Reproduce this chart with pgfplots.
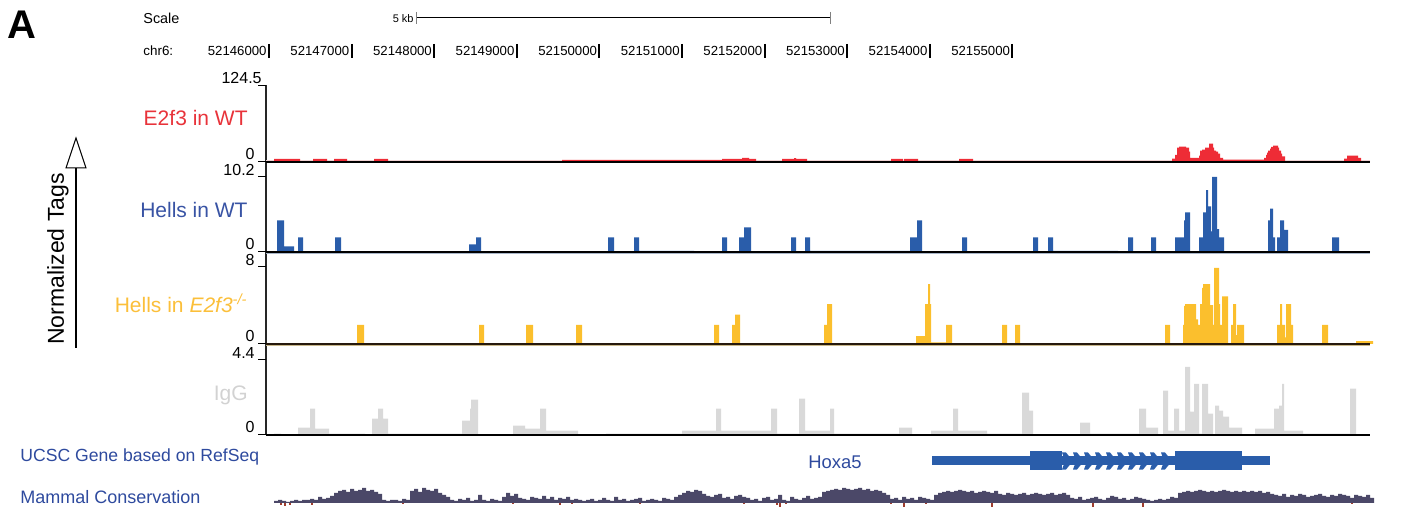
\documentclass[border=0pt]{standalone}
\usepackage{fontspec}
\setmainfont{Liberation Sans}
\usepackage{pgfplots}
\pgfplotsset{compat=1.18}
\definecolor{cred}{HTML}{EE2C36}
\definecolor{cblue}{HTML}{2A5DAA}
\definecolor{cyel}{HTML}{FBBF2D}
\definecolor{cgray}{HTML}{D9D9D9}
\definecolor{tred}{HTML}{E8333A}
\definecolor{tblue}{HTML}{3853A4}
\definecolor{tyel}{HTML}{FBBF3A}
\definecolor{tgray}{HTML}{D2D2D2}
\definecolor{ucsc}{HTML}{2E4A9E}
\definecolor{cons}{HTML}{4B4868}
\definecolor{consneg}{HTML}{9E3D2E}
\definecolor{lpink}{HTML}{F0D4D4}
\definecolor{lblue}{HTML}{A9B6C8}
\definecolor{ltan}{HTML}{C8B78A}
\begin{document}
\begin{tikzpicture}
\pgfplotsset{track/.style={hide axis, clip=false, scale only axis, width=552pt,
  xmin=266, xmax=1370, ymin=0, anchor=south west}}
% ---------- frame axis in picture units ----------
\begin{axis}[hide axis, clip=false, scale only axis, width=708.5pt, height=256pt,
  xmin=0, xmax=1417, ymin=0, ymax=512, y dir=reverse, at={(0pt,0pt)}, anchor=south west]
\node[anchor=north west, font=\fontsize{20}{20}\selectfont\bfseries, inner sep=0pt] at (axis cs:7,11) {A};
% scale bar
\node[anchor=west, font=\fontsize{7.2}{8}\selectfont, inner sep=0pt] at (axis cs:143,18) {Scale};
\node[anchor=east, font=\fontsize{5.5}{6}\selectfont, inner sep=0pt] at (axis cs:414,18.5) {5 kb};
\draw[line width=0.5pt] (axis cs:416,18) -- (axis cs:830,18);
\draw[line width=0.4pt, gray] (axis cs:416,12) -- (axis cs:416,24);
\draw[line width=0.4pt, gray] (axis cs:830,12) -- (axis cs:830,24);
% ruler
\node[anchor=west, font=\fontsize{6.7}{7}\selectfont, inner sep=0pt] at (axis cs:143,51) {chr6:};
\node[anchor=east, font=\fontsize{6.6}{7}\selectfont, inner sep=0pt] at (axis cs:267,51) {52146000};
\node[anchor=east, font=\fontsize{6.6}{7}\selectfont, inner sep=0pt] at (axis cs:349.6,51) {52147000};
\node[anchor=east, font=\fontsize{6.6}{7}\selectfont, inner sep=0pt] at (axis cs:432.2,51) {52148000};
\node[anchor=east, font=\fontsize{6.6}{7}\selectfont, inner sep=0pt] at (axis cs:514.8,51) {52149000};
\node[anchor=east, font=\fontsize{6.6}{7}\selectfont, inner sep=0pt] at (axis cs:597.4,51) {52150000};
\node[anchor=east, font=\fontsize{6.6}{7}\selectfont, inner sep=0pt] at (axis cs:680,51) {52151000};
\node[anchor=east, font=\fontsize{6.6}{7}\selectfont, inner sep=0pt] at (axis cs:762.6,51) {52152000};
\node[anchor=east, font=\fontsize{6.6}{7}\selectfont, inner sep=0pt] at (axis cs:845.2,51) {52153000};
\node[anchor=east, font=\fontsize{6.6}{7}\selectfont, inner sep=0pt] at (axis cs:927.8,51) {52154000};
\node[anchor=east, font=\fontsize{6.6}{7}\selectfont, inner sep=0pt] at (axis cs:1010.4,51) {52155000};
\draw[line width=1pt] (axis cs:269,44) -- (axis cs:269,58);
\draw[line width=1pt] (axis cs:351.6,44) -- (axis cs:351.6,58);
\draw[line width=1pt] (axis cs:434.2,44) -- (axis cs:434.2,58);
\draw[line width=1pt] (axis cs:516.8,44) -- (axis cs:516.8,58);
\draw[line width=1pt] (axis cs:599.4,44) -- (axis cs:599.4,58);
\draw[line width=1pt] (axis cs:682,44) -- (axis cs:682,58);
\draw[line width=1pt] (axis cs:764.6,44) -- (axis cs:764.6,58);
\draw[line width=1pt] (axis cs:847.2,44) -- (axis cs:847.2,58);
\draw[line width=1pt] (axis cs:929.8,44) -- (axis cs:929.8,58);
\draw[line width=1pt] (axis cs:1012.4,44) -- (axis cs:1012.4,58);
% left axis and ticks
\draw[line width=0.8pt, black!85] (axis cs:266,85) -- (axis cs:266,435);
\draw[line width=0.5pt] (axis cs:258,86) -- (axis cs:266,86);
\draw[line width=0.5pt] (axis cs:258,162) -- (axis cs:266,162);
\draw[line width=0.5pt] (axis cs:258,177) -- (axis cs:266,177);
\draw[line width=0.5pt] (axis cs:258,252) -- (axis cs:266,252);
\draw[line width=0.5pt] (axis cs:258,267) -- (axis cs:266,267);
\draw[line width=0.5pt] (axis cs:258,344) -- (axis cs:266,344);
\draw[line width=0.5pt] (axis cs:258,360) -- (axis cs:266,360);
\draw[line width=0.5pt] (axis cs:258,435) -- (axis cs:266,435);
\node[anchor=base east, font=\fontsize{8}{9}\selectfont, inner sep=0pt] at (axis cs:262,84) {124.5};
\node[anchor=base east, font=\fontsize{8}{9}\selectfont, inner sep=0pt] at (axis cs:255,160) {0};
\node[anchor=base east, font=\fontsize{8}{9}\selectfont, inner sep=0pt] at (axis cs:255,176) {10.2};
\node[anchor=base east, font=\fontsize{8}{9}\selectfont, inner sep=0pt] at (axis cs:255,250) {0};
\node[anchor=base east, font=\fontsize{8}{9}\selectfont, inner sep=0pt] at (axis cs:255,266) {8};
\node[anchor=base east, font=\fontsize{8}{9}\selectfont, inner sep=0pt] at (axis cs:255,342) {0};
\node[anchor=base east, font=\fontsize{8}{9}\selectfont, inner sep=0pt] at (axis cs:255,359) {4.4};
\node[anchor=base east, font=\fontsize{8}{9}\selectfont, inner sep=0pt] at (axis cs:255,433) {0};
% track names
\node[anchor=east, font=\fontsize{10.5}{12}\selectfont, text=tred, inner sep=0pt] at (axis cs:248,118) {E2f3 in WT};
\node[anchor=east, font=\fontsize{10.5}{12}\selectfont, text=tblue, inner sep=0pt] at (axis cs:248,210) {Hells in WT};
\node[anchor=east, font=\fontsize{10.5}{12}\selectfont, text=tyel, inner sep=0pt] at (axis cs:248,303) {Hells in \textit{E2f3}\textsuperscript{\textit{-/-}}};
\node[anchor=east, font=\fontsize{10.5}{12}\selectfont, text=tgray, inner sep=0pt] at (axis cs:248,395) {IgG};
% y label with arrow
\node[rotate=90, font=\fontsize{11.5}{12}\selectfont, inner sep=0pt] at (axis cs:58,259) {Normalized Tags};
\draw[line width=1.1pt] (axis cs:76,168) -- (axis cs:76,348);
\draw[fill=white, line width=0.5pt] (axis cs:76,138) -- (axis cs:86,168) -- (axis cs:66,168) -- cycle;
% bottom tracks names
\node[anchor=west, font=\fontsize{8.8}{10}\selectfont, text=ucsc, inner sep=0pt] at (axis cs:20,457) {UCSC Gene based on RefSeq};
\node[anchor=west, font=\fontsize{9}{10}\selectfont, text=ucsc, inner sep=0pt] at (axis cs:20,497) {Mammal Conservation};
\node[anchor=west, font=\fontsize{9.2}{10}\selectfont, text=ucsc, inner sep=0pt] at (axis cs:808,462) {Hoxa5};
% gene model Hoxa5
\addplot[fill=cblue, draw=none] coordinates {(932,456.5) (1270,456.5) (1270,465.5) (932,465.5)};
\addplot[fill=cblue, draw=none] coordinates {(1030,451.5) (1062,451.5) (1062,470) (1030,470)};
\addplot[fill=cblue, draw=none] coordinates {(1175,451.5) (1242,451.5) (1242,470) (1175,470)};
\addplot[fill=cblue, draw=none] coordinates {(1062,452.5) (1066,452.5) (1073,461) (1066,469.5) (1062,469.5) (1065,461)};
\addplot[fill=cblue, draw=none] coordinates {(1073,452.5) (1077,452.5) (1084,461) (1077,469.5) (1073,469.5) (1076,461)};
\addplot[fill=cblue, draw=none] coordinates {(1084,452.5) (1088,452.5) (1095,461) (1088,469.5) (1084,469.5) (1087,461)};
\addplot[fill=cblue, draw=none] coordinates {(1095,452.5) (1099,452.5) (1106,461) (1099,469.5) (1095,469.5) (1098,461)};
\addplot[fill=cblue, draw=none] coordinates {(1106,452.5) (1110,452.5) (1117,461) (1110,469.5) (1106,469.5) (1109,461)};
\addplot[fill=cblue, draw=none] coordinates {(1117,452.5) (1121,452.5) (1128,461) (1121,469.5) (1117,469.5) (1120,461)};
\addplot[fill=cblue, draw=none] coordinates {(1128,452.5) (1132,452.5) (1139,461) (1132,469.5) (1128,469.5) (1131,461)};
\addplot[fill=cblue, draw=none] coordinates {(1139,452.5) (1143,452.5) (1150,461) (1143,469.5) (1139,469.5) (1142,461)};
\addplot[fill=cblue, draw=none] coordinates {(1150,452.5) (1154,452.5) (1161,461) (1154,469.5) (1150,469.5) (1153,461)};
\addplot[fill=cblue, draw=none] coordinates {(1161,452.5) (1165,452.5) (1172,461) (1165,469.5) (1161,469.5) (1164,461)};
\end{axis}
% ---------- E2f3 in WT ----------
\begin{axis}[track, at={(133pt,175pt)}, height=37.5pt, ymax=124.5]
\addplot[draw=lpink, line width=1pt] coordinates {(266,1.6) (1370,1.6)};
\addplot[const plot, fill=cred, draw=none] coordinates {
(266,0) (274,5) (300,0) (313,5) (327,0) (334,5) (347,0) (374,5) (388,0)
(562,3.5) (722,5) (742,7) (749,5) (756,0)
(782,5) (794,6.5) (796,5) (807,0)
(891,5) (903,0) (904,5) (918,0) (959,5) (973,0)
(1172,5.5) (1175,12) (1177,24) (1179,25.5) (1186,24) (1189,17) (1190,7) (1199,10.5) (1200,19) (1202,20.5) (1205,24) (1209,30.5) (1213,24) (1214,19) (1216,17) (1218,14) (1220,7) (1223,4)
(1264,7) (1266,11.6) (1267,15.5) (1268,19) (1270,22) (1271,25) (1273,27) (1278,24) (1279,19) (1281,14) (1282,9.5) (1285,0)
(1344,5.5) (1347,10.5) (1358,7) (1361,0) (1370,0)} \closedcycle;
\addplot[black, line width=0.75pt] coordinates {(266,0) (1370,0)};
\end{axis}
% ---------- Hells in WT ----------
\begin{axis}[track, at={(133pt,130pt)}, height=37.5pt, ymax=10.2]
\addplot[draw=lblue, line width=1pt] coordinates {(266,-0.14) (1370,-0.14)};
\addplot[const plot, fill=cblue, draw=none] coordinates {
(266,0) (277,4.3) (284,0.77) (294,0) (298,2) (303,0) (335,2) (341,0)
(469,1.04) (476,2) (481,0) (608,2) (614,0) (634,2) (639,0.15) (694,0)
(722,2) (727,0) (739,2) (744,3.35) (751,0) (791,2) (796,0)
(805,2) (810,0.15) (910,2) (917,4.3) (922,0) (962,2) (967,0)
(1033,2) (1038,0) (1048,2) (1053,0.15) (1118,0) (1128,2) (1133,0) (1151,2) (1156,0)
(1175,2) (1184,4.3) (1185,5.4) (1190,0)
(1199,2) (1203,5.4) (1206,8.4) (1208,6.2) (1211,2.8) (1212,10.2) (1217,3.1) (1219,2) (1224,0)
(1268,4.3) (1270,5.9) (1273,2) (1275,0) (1277,2) (1280,4.3) (1284,3) (1288,0)
(1332,2) (1339,0) (1370,0)} \closedcycle;
\addplot[black, line width=0.75pt] coordinates {(266,0) (1370,0)};
\end{axis}
% ---------- Hells in E2f3-/- ----------
\begin{axis}[track, at={(133pt,84pt)}, height=38pt, ymax=8]
\addplot[draw=ltan, line width=1pt] coordinates {(266,-0.1) (1370,-0.1)};
\addplot[const plot, fill=cyel, draw=none] coordinates {
(266,0) (357,2) (364,0) (428,0.1) (479,2) (484,0) (526,2) (533,0)
(576,2) (582,0.1) (630,0) (714,2) (719,0) (732,2) (735,3.1) (740,0)
(824,2) (827,4.2) (832,0)
(916,0.83) (925,4.2) (928,6.3) (930,4.2) (931,0.18) (946,2) (952,0)
(1002,2) (1007,0) (1015,2) (1020,0.1) (1088,0) (1165,2) (1170,0)
(1183,2) (1184,4) (1185,4.2) (1196,2.6) (1198,2) (1200,4.2) (1202,5.9) (1203,6.3) (1210,4.1) (1213,2) (1214,8) (1219,4.2) (1220,2) (1222,5) (1228,0)
(1231,2) (1233,4.2) (1236,0.94) (1237,2) (1244,0)
(1277,2) (1280,4.2) (1282,2) (1285,0.7) (1286,4.2) (1291,2) (1293,0)
(1322,2) (1328,0) (1356,0.3) (1373,0)} \closedcycle;
\addplot[black!80!brown, line width=0.75pt] coordinates {(266,0) (1370,0)};
\end{axis}
% ---------- IgG ----------
\begin{axis}[track, at={(133pt,38.5pt)}, height=37.5pt, ymax=4.4]
\addplot[const plot, fill=cgray, draw=none] coordinates {
(266,0) (274,0.08) (281,0)
(298,0.43) (310,1.55) (315,0.37) (329,0.08) (365,0)
(372,0.96) (378,1.55) (383,0.96) (388,0.08) (462,0.84) (470,1.55) (471,2.07) (478,0)
(513,0.55) (525,0.37) (540,1.55) (546,0.25) (578,0)
(606,0.08) (682,0.25) (716,1.55) (721,0.25) (771,1.55) (777,0.08) (799,2.13) (805,0.25) (830,1.55) (834,0.08) (899,0.43) (912,0)
(931,0.25) (953,1.55) (958,0.25) (987,0.08) (1022,2.48) (1029,1.43) (1033,0)
(1080,0.72) (1090,0.08) (1139,1.55) (1146,0.43) (1158,0)
(1163,2.6) (1168,0.25) (1174,1.55) (1179,0.25) (1185,4.0) (1190,1.37) (1194,3.0) (1199,0.08) (1202,3.0) (1208,1.25) (1213,0)
(1215,1.72) (1219,1.43) (1223,1.08) (1229,0.43) (1242,0)
(1255,0.37) (1274,1.55) (1279,1.72) (1282,3.0) (1284,0.25) (1303,0.08) (1350,2.72) (1356,0) (1370,0)} \closedcycle;
\addplot[black, line width=0.75pt] coordinates {(266,0) (1370,0)};
\end{axis}
% ---------- Mammal Conservation ----------
\begin{axis}[track, at={(133pt,4.5pt)}, height=7.5pt, ymax=15]
\addplot[const plot, fill=cons, draw=none] table[x expr={274+4*\coordindex}, y=v, row sep=\\] {
v\\
2\\3\\2\\1\\2\\3\\2\\3\\
3\\4\\3\\6\\4\\5\\7\\
10\\12\\13\\11\\14\\12\\13\\15\\12\\13\\11\\9\\
3\\2\\3\\3\\2\\4\\3\\
12\\14\\11\\15\\13\\12\\14\\10\\8\\6\\
3\\2\\4\\3\\5\\2\\3\\8\\3\\2\\4\\3\\2\\
6\\10\\7\\9\\5\\
4\\3\\6\\5\\4\\7\\4\\6\\3\\5\\4\\6\\3\\4\\3\\
2\\3\\4\\2\\3\\5\\3\\2\\6\\3\\4\\2\\3\\4\\5\\2\\3\\4\\3\\2\\5\\4\\3\\
6\\8\\10\\12\\11\\13\\12\\9\\
7\\6\\8\\9\\5\\6\\4\\7\\8\\6\\5\\
3\\4\\2\\5\\6\\3\\4\\8\\3\\2\\6\\4\\3\\5\\7\\4\\5\\6\\
11\\12\\13\\14\\13\\15\\14\\13\\14\\15\\13\\14\\12\\13\\12\\10\\8\\
4\\5\\3\\6\\4\\5\\3\\6\\5\\4\\3\\
8\\10\\11\\12\\11\\12\\13\\12\\11\\12\\10\\11\\12\\11\\10\\12\\
9\\8\\10\\9\\8\\9\\10\\8\\9\\10\\9\\8\\9\\10\\8\\9\\10\\8\\
5\\4\\6\\3\\4\\5\\6\\4\\3\\5\\7\\6\\4\\5\\3\\4\\6\\5\\4\\3\\2\\3\\4\\3\\4\\6\\5\\
10\\11\\12\\11\\12\\13\\12\\11\\12\\11\\12\\13\\12\\11\\12\\11\\12\\11\\12\\11\\12\\10\\11\\9\\
8\\7\\9\\6\\8\\7\\9\\8\\6\\7\\8\\9\\7\\6\\8\\7\\9\\8\\7\\5\\8\\7\\6\\8\\5\\
0\\
} \closedcycle;
\addplot[ycomb, draw=consneg, line width=0.9pt, mark=none] coordinates {
(281,-2) (285,-3) (290,-2) (312,-2) (403,-1.5) (513,-1.5) (560,-2) (572,-1.5) (640,-1.5)
(744,-1.5) (777,-2.5) (780,-4) (786,-1.5) (891,-1.5) (904,-4) (926,-1.5) (992,-4) (1093,-4) (1143,-4) (1352,-1.5)};
\end{axis}
\pgfresetboundingbox
\path[use as bounding box] (0pt,0pt) rectangle (708.5pt,256pt);
\end{tikzpicture}
\end{document}
